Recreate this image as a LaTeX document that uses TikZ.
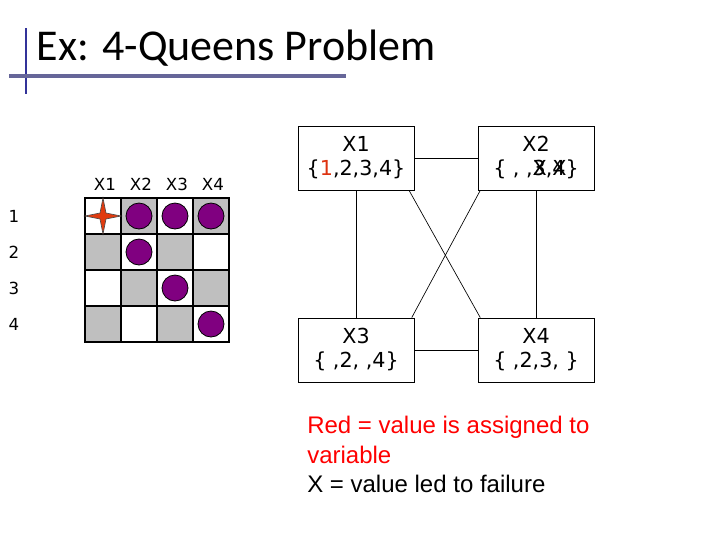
\documentclass[tikz,border=0pt]{standalone}
\usepackage{fontspec}
\setmainfont{DejaVu Sans}
\newfontfamily\titlefont{Carlito}
\newfontfamily\arialf{Liberation Sans}
\begin{document}
\begin{tikzpicture}[x=0.75pt,y=-0.75pt,
  cell/.style={draw=black,line width=0.8pt},
  queen/.style={circle,draw=black,minimum size=19.5pt,inner sep=0pt,line width=0.6pt},
  varbox/.style={draw=black,line width=0.6pt,minimum width=87pt,minimum height=48pt,align=center,font=\fontsize{15.5}{18}\selectfont,inner sep=1pt},
  conn/.style={line width=0.5pt},
  lbl/.style={font=\fontsize{12.5}{14}\selectfont}]
\definecolor{qp}{HTML}{800080}
\definecolor{rd}{HTML}{DD3311}
\useasboundingbox (0,0) rectangle (720,540);
% title
\draw[line width=2.2pt,draw={rgb,255:red,51;green,51;blue,153}] (26,28) -- (26,94);
\draw[line width=3pt,draw={rgb,255:red,102;green,102;blue,153}] (9,76) -- (346,76);
\node[anchor=west,font=\titlefont\fontsize{33}{36}\selectfont] (title) at (32,48) {Ex: 4-Queens Problem};
% board
\foreach \r in {0,1,2,3}{\foreach \c in {0,1,2,3}{
  \pgfmathtruncatemacro\s{mod(\r+\c,2)}
  \ifnum\s=1 \fill[black!25] (85+36*\c,198+36*\r) rectangle ++(36,36);\fi
  \draw[cell] (85+36*\c,198+36*\r) rectangle ++(36,36);
}}
\foreach \c/\t in {0/X1,1/X2,2/X3,3/X4}{\node[lbl] (cl\c) at (105+36*\c,184) {\t};}
\foreach \r in {1,2,3,4}{\node[lbl] (rl\r) at (14,216+36*\r-36) {\r};}
\foreach \c/\r [count=\i] in {1/0,2/0,3/0,1/1,2/2,3/3}{
  \node[queen,fill=qp] (q\i) at (103+36*\c,216+36*\r) {};}
\draw[fill=rd!90!orange,draw=black!70,line width=0.5pt] (85,216) -- (100,213) -- (103,198) -- (106,213) -- (121,216) -- (106,219) -- (103,234) -- (100,219) -- cycle;
% variables
\node[varbox] (x1) at (356,158) {X1\\{\{}\textcolor{rd}{1},2,3,4\}};
\node[varbox] (x2) at (536,158) {X2\\\{ , ,\rlap{X}3,\rlap{X}4\}};
\node[varbox] (x3) at (356,350) {X3\\\{ ,2, ,4\}};
\node[varbox] (x4) at (536,350) {X4\\\{ ,2,3, \}};
\draw[conn] (x1.east) -- (x2.west);
\draw[conn] (x3.east) -- (x4.west);
\draw[conn] (x1.south) -- (x3.north);
\draw[conn] (x2.south) -- (x4.north);
\draw[conn] ([xshift=-4pt]x1.south east) -- ([xshift=2pt]x4.north west);
\draw[conn] ([xshift=2pt]x2.south west) -- ([xshift=-2pt]x3.north east);
\node[anchor=north west,align=left,font=\arialf\fontsize{18}{22}\selectfont,text=black,inner sep=0pt] (leg) at (307,416) {\textcolor{red}{Red = value is assigned to}\\\textcolor{red}{variable}\\X = value led to failure};
\end{tikzpicture}
\end{document}
